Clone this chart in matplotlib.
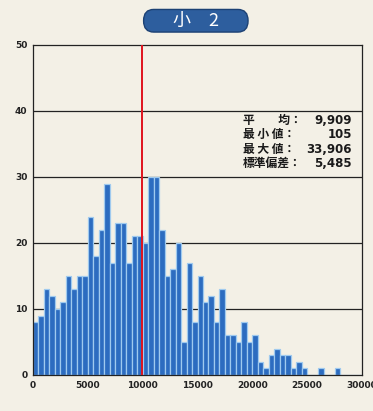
import numpy as np
import matplotlib.pyplot as plt
from matplotlib.patches import FancyBboxPatch

# ----------------------------
# Data
# ----------------------------
bin_width = 500
counts = [8, 9, 13, 12, 10, 11, 15, 13, 15, 15,
          24, 18, 22, 29, 17, 23, 23, 17, 21, 21,
          20, 30, 30, 22, 15, 16, 20, 5, 17, 8,
          15, 11, 12, 8, 13, 6, 6, 5, 8, 5,
          6, 2, 1, 3, 4, 3, 3, 1, 2, 1,
          0, 0, 1, 0, 0, 1, 0, 0, 0, 0]
mean_value = 9909

stat_labels = ["平　　均：", "最 小 値：", "最 大 値：", "標準偏差："]
stat_values = ["9,909", "105", "33,906", "5,485"]

x_ticks = [0, 5000, 10000, 15000, 20000, 25000, 30000]
y_ticks = [0, 10, 20, 30, 40, 50]

title = "小　2"

# ----------------------------
# Plot
# ----------------------------
paper = "#f3f0e6"
plt.rcParams["font.family"] = ["Noto Sans CJK JP", "DejaVu Sans"]

fig = plt.figure(figsize=(3.73, 4.11), dpi=100, facecolor=paper)
ax = fig.add_axes([0.0885, 0.0876, 0.882, 0.803])
ax.set_facecolor(paper)

left_edges = np.arange(len(counts)) * bin_width
ax.bar(left_edges, counts, width=bin_width, align="edge",
       color="#2c6cc0", edgecolor="#9fcaef", linewidth=0.9, zorder=2)

for y in y_ticks[1:-1]:
    ax.axhline(y, color="#222222", linewidth=0.9, zorder=1)

ax.axvline(mean_value, color="#e0141e", linewidth=1.4, zorder=3)

ax.set_xlim(0, 30000)
ax.set_ylim(0, 50)
ax.set_xticks(x_ticks)
ax.set_yticks(y_ticks)
ax.tick_params(length=0, labelsize=6.5, colors="#222222", pad=4)
for lab in ax.get_xticklabels() + ax.get_yticklabels():
    lab.set_fontweight("bold")
    lab.set_family("DejaVu Sans")
for s in ax.spines.values():
    s.set_color("#222222")
    s.set_linewidth(0.9)

# statistics block
row_y = [0.706, 0.672, 0.637, 0.603]
for lab, val, ry in zip(stat_labels, stat_values, row_y):
    fig.text(0.652, ry, lab, fontsize=8.5, fontweight="bold",
             color="#1a1a1a", va="center", ha="left")
    fig.text(0.944, ry, val, fontsize=8.5, fontweight="bold",
             color="#1a1a1a", va="center", ha="right", family="DejaVu Sans")

# title pill
pill = FancyBboxPatch((0.385, 0.922), 0.28, 0.055,
                      boxstyle="round,pad=0,rounding_size=0.027",
                      transform=fig.transFigure, facecolor="#2d5e9e",
                      edgecolor="#1c4174", linewidth=1.0,
                      mutation_aspect=1.0)
fig.patches.append(pill)
fig.text(0.525, 0.949, title, fontsize=13, color="white",
         ha="center", va="center")

fig.savefig("out.png", dpi=100, facecolor=paper)
